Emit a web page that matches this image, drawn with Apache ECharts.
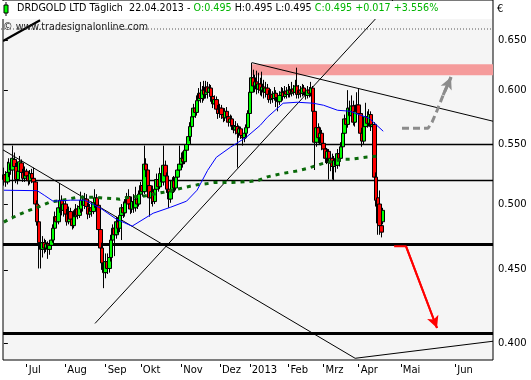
<!DOCTYPE html>
<html><head><meta charset="utf-8">
<script src="https://cdn.jsdelivr.net/npm/echarts@6/dist/echarts.min.js"></script>
<style>html,body{margin:0;padding:0;background:#fff}#c{width:531px;height:380px}</style>
</head><body><div id="c"></div>
<script>
// daily candles [open, close, low, high], one per trading day from 13.06.2012 to 22.04.2013
const candles = [
[.520,.524,.515,.530],[.524,.518,.514,.527],[.518,.526,.516,.535],[.526,.534,.522,.538],[.533,.528,.524,.537],
[.528,.538,.488,.549],[.537,.531,.527,.543],[.531,.520,.517,.534],[.520,.527,.516,.531],[.527,.535,.524,.540],
[.534,.526,.522,.537],[.526,.521,.518,.529],[.521,.527,.518,.531],[.527,.523,.519,.529],[.523,.519,.515,.526],
[.519,.525,.516,.528],[.525,.521,.517,.529],[.521,.518,.514,.530],[.518,.500,.497,.520],[.500,.486,.483,.503],
[.486,.470,.451,.489],[.470,.465,.451,.478],[.465,.470,.459,.475],[.470,.466,.462,.473],[.466,.469,.463,.472],
[.469,.465,.458,.471],[.465,.468,.461,.471],[.468,.472,.465,.476],[.472,.481,.470,.484],[.481,.490,.479,.494],
[.490,.486,.482,.495],[.486,.497,.484,.503],[.497,.503,.493,.517],[.503,.495,.491,.507],[.495,.500,.490,.503],
[.500,.492,.488,.504],[.492,.486,.483,.496],[.486,.494,.484,.498],[.494,.488,.485,.497],[.488,.483,.480,.491],
[.483,.490,.481,.495],[.490,.496,.487,.500],[.496,.491,.488,.499],[.491,.498,.489,.503],[.496,.503,.493,.510],
[.503,.499,.494,.507],[.499,.504,.496,.509],[.504,.498,.494,.508],[.498,.492,.488,.501],[.492,.497,.489,.500],
[.497,.494,.490,.502],[.494,.501,.492,.505],[.501,.505,.497,.512],[.505,.499,.496,.508],[.499,.480,.477,.502],
[.480,.466,.462,.483],[.466,.455,.450,.470],[.455,.448,.437,.460],[.448,.456,.444,.462],[.456,.451,.447,.462],
[.451,.459,.448,.463],[.459,.472,.456,.476],[.472,.481,.468,.484],[.481,.476,.460,.486],[.476,.486,.473,.490],
[.486,.481,.477,.489],[.481,.491,.478,.494],[.491,.497,.472,.500],[.497,.493,.489,.502],[.493,.501,.490,.504],
[.501,.506,.497,.509],[.506,.500,.497,.512],[.500,.496,.492,.505],[.496,.502,.493,.506],[.502,.497,.493,.508],
[.497,.504,.494,.514],[.504,.500,.496,.507],[.500,.508,.498,.511],[.508,.515,.505,.518],[.515,.510,.506,.519],
[.510,.533,.508,.549],[.533,.528,.522,.538],[.528,.515,.512,.531],[.515,.505,.490,.518],[.505,.510,.500,.514],
[.510,.502,.498,.515],[.502,.512,.500,.516],[.512,.520,.508,.525],[.520,.514,.510,.524],[.514,.525,.512,.530],
[.525,.518,.514,.529],[.518,.532,.515,.549],[.532,.523,.519,.536],[.523,.512,.509,.526],[.512,.504,.497,.515],
[.504,.510,.501,.514],[.510,.519,.507,.522],[.519,.513,.509,.523],[.513,.522,.511,.526],[.522,.528,.518,.533],
[.528,.533,.524,.549],[.533,.538,.528,.543],[.538,.535,.530,.544],[.535,.545,.533,.550],[.545,.550,.540,.556],
[.550,.557,.545,.561],[.557,.566,.553,.570],[.566,.575,.561,.579],[.575,.583,.571,.587],[.583,.579,.574,.589],
[.579,.590,.576,.595],[.590,.597,.585,.602],[.597,.592,.588,.608],[.592,.600,.588,.604],[.600,.596,.590,.609],
[.596,.603,.592,.609],[.603,.598,.592,.608],[.598,.602,.594,.606],[.602,.594,.589,.605],[.594,.587,.583,.597],
[.587,.591,.583,.595],[.591,.582,.578,.594],[.582,.578,.573,.586],[.578,.583,.574,.587],[.583,.577,.573,.586],
[.577,.574,.570,.580],[.574,.580,.571,.583],[.580,.575,.570,.584],[.575,.570,.566,.579],[.570,.573,.566,.577],
[.573,.567,.563,.576],[.567,.563,.560,.570],[.563,.566,.559,.571],[.566,.560,.530,.569],[.560,.564,.556,.567],
[.564,.558,.555,.566],[.558,.556,.549,.561],[.556,.560,.552,.563],[.560,.565,.555,.568],[.565,.578,.562,.581],
[.578,.598,.575,.601],[.598,.612,.594,.627],[.612,.604,.598,.620],[.604,.608,.598,.615],[.608,.601,.596,.619],
[.601,.606,.597,.617],[.606,.600,.595,.612],[.600,.603,.594,.618],[.603,.598,.592,.610],[.598,.602,.593,.608],
[.602,.596,.591,.606],[.596,.591,.588,.600],[.591,.596,.587,.601],[.596,.592,.588,.599],[.592,.597,.590,.603],
[.597,.593,.584,.600],[.593,.589,.580,.597],[.589,.595,.586,.599],[.595,.598,.591,.603],[.598,.594,.590,.602],
[.594,.599,.592,.604],[.599,.596,.592,.603],[.596,.600,.593,.606],[.600,.597,.593,.604],[.597,.601,.594,.608],
[.601,.598,.595,.605],[.598,.604,.596,.610],[.604,.596,.592,.622],[.596,.600,.592,.605],[.600,.597,.593,.604],
[.597,.602,.594,.606],[.602,.598,.595,.605],[.598,.595,.591,.602],[.595,.600,.592,.604],[.600,.597,.593,.603],
[.597,.602,.594,.608],[.602,.580,.575,.604],[.580,.552,.528,.583],[.552,.565,.548,.568],[.565,.556,.551,.569],
[.556,.560,.550,.566],[.560,.551,.545,.563],[.551,.546,.541,.555],[.546,.538,.534,.549],[.538,.544,.533,.547],
[.544,.534,.520,.546],[.534,.538,.527,.541],[.538,.531,.520,.542],[.531,.536,.519,.540],[.536,.532,.526,.539],
[.532,.542,.529,.546],[.542,.538,.531,.545],[.538,.548,.535,.552],[.548,.560,.545,.563],[.560,.573,.556,.577],
[.573,.568,.562,.580],[.568,.583,.565,.600],[.583,.576,.570,.590],[.576,.585,.572,.595],[.585,.570,.567,.590],
[.570,.580,.566,.586],[.580,.586,.576,.598],[.586,.578,.572,.601],[.578,.560,.556,.582],[.560,.553,.548,.565],
[.553,.566,.550,.570],[.566,.575,.562,.588],[.575,.569,.565,.580],[.569,.577,.566,.582],[.577,.566,.562,.580],
[.566,.568,.562,.574],[.568,.522,.518,.570],[.522,.503,.498,.526],[.505,.485,.476,.519],[.500,.483,.476,.511],
[.483,.478,.474,.489],[.486,.495,.484,.497]
];
const nSlots = 279; // trading-day slots incl. future space up to end of June
const monthIdx = [13, 35, 58, 78, 101, 123, 140, 162, 182, 202, 226, 257];
const monthLbl = ['Jul','Aug','Sep','Okt','Nov','Dez','2013','Feb','Mrz','Apr','Mai','Jun'];
const yTicks = [0.40, 0.45, 0.50, 0.55, 0.60, 0.65];
// moving averages [slot, value]
const blueMA = [[0,.5112],[19,.5108],[23,.5071],[28,.5023],[38,.5031],[46,.5031],[55,.4967],[64,.4881],[73,.4826],
 [85,.4927],[95,.4975],[104,.5023],[110,.5112],[116,.5277],[121,.5389],[129,.5476],[138,.5564],[146,.5672],
 [150,.5745],[159,.5876],[167,.5885],[176,.5876],[182,.5857],[190,.5810],[197,.5801],[208,.5736],[216,.5618]];
const greenMA = [[0,.4857],[3,.4881],[8,.4912],[13,.4943],[18,.4967],[22,.4991],[26,.5015],[31,.5025],[37,.5041],
 [42,.5055],[47,.5055],[52,.5055],[56,.5049],[62,.5044],[66,.5039],[72,.5057],[79,.5063],[85,.5079],[91,.5096],
 [96,.5112],[102,.5131],[106,.5145],[110,.5156],[116,.5167],[120,.5176],[130,.5176],[134,.5178],[140,.5184],
 [145,.5194],[150,.5222],[159,.5252],[167,.5272],[173,.5294],[182,.5337],[193,.5371],[197,.5371],[207,.5391],[212,.5397]];
// drawn levels and trend lines [slot, price]
const levels = [0.550, 0.519, 0.469, 0.4065];
const levelWidths = [1.3, 1.3, 3, 3];
const trendLines = [
 [[-0.5,.6490],[20.6,.6710]],
 [[-0.5,.5453],[200,.3906]],
 [[200,.3906],[278.5,.4014]],
 [[51.9,.4130],[221.5,.69316]],
 [[141.3,.6270],[278.5,.5709]]
];
const trendWidths = [2.2, 1, 1, 1, 1];
const zone = [[141.3,.6254],[278.5,.6145]];
const grayArrow = [[226.7,.5645],[241.5,.5645],[243.8,.5700],[246.7,.5810],[250.1,.5952],[254.6,.6126]];
const redArrow = [[222.2,.4673],[229,.4673],[246.6,.4100]];

const cats = Array.from({length: nSlots}, (_, i) => String(i));
const lblOf = {}; monthIdx.forEach((m, k) => lblOf[m] = monthLbl[k]);
const isMonth = (i) => lblOf[i] !== undefined;
const F = 'DejaVu Sans';

const chart = echarts.init(document.getElementById('c'), null, {renderer: 'canvas'});
const lineData = levels.map((v, k) => ({coords: [[-0.5, v], [nSlots - 0.5, v]], lineStyle: {width: levelWidths[k]}}))
  .concat(trendLines.map((c, k) => ({coords: c, lineStyle: {width: trendWidths[k]}})));

function arrowSeries(pts, style) {
  const n = pts.length;
  return {type: 'line', xAxisIndex: 1, data: pts, symbol: 'none', z: 5, silent: true, lineStyle: style,
    markLine: {silent: true, symbol: ['none', 'arrow'], symbolSize: [9, 12], label: {show: false},
      lineStyle: {color: style.color, width: style.width, type: 'solid', opacity: 1},
      emphasis: {disabled: true},
      data: [[{coord: pts[n - 2]}, {coord: pts[n - 1]}]]}};
}

chart.setOption({
  animation: false,
  backgroundColor: '#ffffff',
  grid: {left: 3, right: 38, top: 0, bottom: 20, show: true, borderColor: '#000', borderWidth: 1, backgroundColor: '#f5f5f5'},
  xAxis: [{
    type: 'category', data: cats, boundaryGap: true, offset: 4,
    axisLine: {show: false},
    axisTick: {show: true, alignWithLabel: true, interval: (i) => isMonth(i), length: 3, lineStyle: {color: '#000'}},
    axisLabel: {interval: (i) => isMonth(i), formatter: (v) => lblOf[+v] || '', align: 'left', margin: 1,
      padding: [0, 0, 0, 2], fontSize: 10, fontFamily: F, color: '#000'},
    splitLine: {show: false}
  }, {
    type: 'value', min: -0.5, max: nSlots - 0.5, show: false
  }],
  yAxis: [{
    type: 'log', logBase: 10, min: 0.389528, max: 0.69316, position: 'right',
    axisLine: {show: false}, splitLine: {show: false},
    axisTick: {show: true, customValues: yTicks, length: 4, lineStyle: {color: '#000'}},
    axisLabel: {customValues: yTicks, formatter: (v) => Number(v).toFixed(3), margin: 5, fontSize: 10, fontFamily: F, color: '#000'}
  }],
  series: [
    {type: 'line', xAxisIndex: 1, data: [zone[0]], symbol: 'none', lineStyle: {opacity: 0}, z: 1, silent: true,
     markArea: {silent: true, itemStyle: {color: '#f59b9b'}, data: [[{coord: zone[0]}, {coord: zone[1]}]]}},
    {type: 'lines', coordinateSystem: 'cartesian2d', xAxisIndex: 1, yAxisIndex: 0, z: 2, silent: true,
     lineStyle: {color: '#000', opacity: 1}, data: lineData},
    {type: 'candlestick', xAxisIndex: 0, yAxisIndex: 0, data: candles, barWidth: 4, z: 3,
     itemStyle: {color: '#00ff00', color0: '#ff0000', borderColor: '#000', borderColor0: '#000', borderWidth: 1}},
    {type: 'line', xAxisIndex: 1, data: greenMA, symbol: 'none', z: 4,
     lineStyle: {color: '#0a6a0a', width: 3, type: [4, 5]}},
    {type: 'line', xAxisIndex: 1, data: blueMA, symbol: 'none', z: 4,
     lineStyle: {color: '#0000ff', width: 1}},
    arrowSeries(grayArrow, {color: '#8c8c8c', width: 3, type: [7, 4]}),
    arrowSeries(redArrow, {color: '#ff0000', width: 2, type: 'solid'})
  ],
  graphic: [
    {type: 'rect', z: 100, shape: {x: 1, y: 1, width: 491, height: 18}, style: {fill: '#ffffff'}},
    {type: 'rect', z: 101, shape: {x: 4, y: 5, width: 4, height: 8}, style: {fill: '#00ff00', stroke: '#000', lineWidth: 1}},
    {type: 'line', z: 101, shape: {x1: 6, y1: 2, x2: 6, y2: 5}, style: {stroke: '#000'}},
    {type: 'line', z: 101, shape: {x1: 6, y1: 13, x2: 6, y2: 16}, style: {stroke: '#000'}},
    {type: 'text', z: 101, left: 17, top: 3, style: {
      text: '{b|DRDGOLD LTD Täglich  22.04.2013 - }{g|O:0.495}{b| H:0.495 L:0.495 }{g|C:0.495 +0.017 +3.556%}',
      font: '9.6px ' + F, rich: {b: {fill: '#000', font: '9.6px ' + F}, g: {fill: '#00b400', font: '9.6px ' + F}}}},
    {type: 'line', z: 100, shape: {x1: 1, y1: 29, x2: 492, y2: 29}, style: {stroke: '#555', lineDash: [1, 2]}},
    {type: 'text', z: 101, left: 3, top: 22, style: {text: '© www.tradesignalonline.com', font: '9.6px ' + F, fill: '#222'}},
    {type: 'text', z: 101, left: 497, top: 4, style: {text: '€', font: '10px ' + F, fill: '#000'}}
  ]
});
</script></body></html>
